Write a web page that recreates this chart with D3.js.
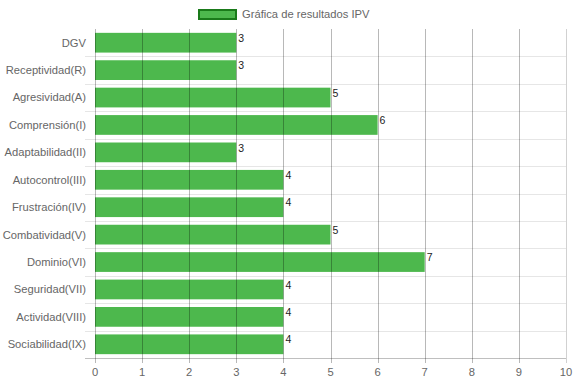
<!DOCTYPE html>
<html>
<head>
<meta charset="utf-8">
<script src="https://cdn.jsdelivr.net/npm/d3@7"></script>
<style>
  body { margin: 0; background: #fff; }
  text { font-family: "Liberation Sans", Arial, sans-serif; }
</style>
</head>
<body>
<div id="chart"></div>
<script>
// datos de la grafica IPV
var categories = ["DGV", "Receptividad(R)", "Agresividad(A)", "Comprensión(I)", "Adaptabilidad(II)",
  "Autocontrol(III)", "Frustración(IV)", "Combatividad(V)", "Dominio(VI)", "Seguridad(VII)",
  "Actividad(VIII)", "Sociabilidad(IX)"];
var values = [3, 3, 5, 6, 3, 4, 4, 5, 7, 4, 4, 4];
var xTicks = [0, 1, 2, 3, 4, 5, 6, 7, 8, 9, 10];
var legendLabel = "Gráfica de resultados IPV";

var width = 574, height = 383;
var margin = { top: 29, right: 8, bottom: 25, left: 95 };
var fontSize = "11.2px";

var svg = d3.select("#chart").append("svg")
  .attr("width", width)
  .attr("height", height);

var x = d3.scaleLinear()
  .domain([0, 10])
  .range([margin.left, width - margin.right]);

var y = d3.scaleBand()
  .domain(categories)
  .range([margin.top, height - margin.bottom]);

var barH = y.bandwidth() * 0.72;

// horizontal grid (category boundaries)
svg.append("g").selectAll("line")
  .data(categories.slice(1))
  .enter().append("line")
  .attr("x1", margin.left - 10)
  .attr("x2", x(10))
  .attr("y1", function (d) { return Math.round(y(d)) + 0.5; })
  .attr("y2", function (d) { return Math.round(y(d)) + 0.5; })
  .style("stroke", "#e6e6e6");

// bars
svg.append("g").selectAll("rect")
  .data(values)
  .enter().append("rect")
  .attr("x", x(0))
  .attr("y", function (d, i) { return y(categories[i]) + (y.bandwidth() - barH) / 2; })
  .attr("width", function (d) { return x(d) - x(0); })
  .attr("height", barH)
  .style("fill", "#4db84d");

// vertical grid on top so it shows through the bars
svg.append("g").selectAll("line")
  .data(xTicks)
  .enter().append("line")
  .attr("x1", function (d) { return Math.round(x(d)) + 0.5; })
  .attr("x2", function (d) { return Math.round(x(d)) + 0.5; })
  .attr("y1", margin.top)
  .attr("y2", height - margin.bottom + 5)
  .style("stroke", function (d) { return d === 10 ? "rgba(0,0,0,0.18)" : "rgba(0,0,0,0.28)"; });

// bottom axis line
svg.append("line")
  .attr("x1", margin.left - 10)
  .attr("x2", x(10))
  .attr("y1", height - margin.bottom + 0.5)
  .attr("y2", height - margin.bottom + 0.5)
  .style("stroke", "rgba(0,0,0,0.25)");

// x tick labels
svg.append("g").selectAll("text")
  .data(xTicks)
  .enter().append("text")
  .attr("x", function (d) { return x(d); })
  .attr("y", height - margin.bottom + 18)
  .attr("text-anchor", "middle")
  .style("font-size", fontSize)
  .style("fill", "#666")
  .text(function (d) { return d; });

// category labels
svg.append("g").selectAll("text")
  .data(categories)
  .enter().append("text")
  .attr("x", margin.left - 9)
  .attr("y", function (d) { return y(d) + y.bandwidth() / 2; })
  .attr("dy", "0.35em")
  .attr("text-anchor", "end")
  .style("font-size", fontSize)
  .style("fill", "#666")
  .text(function (d) { return d; });

// value labels
svg.append("g").selectAll("text")
  .data(values)
  .enter().append("text")
  .attr("x", function (d) { return x(d) + 2; })
  .attr("y", function (d, i) { return y(categories[i]) + (y.bandwidth() - barH) / 2 + 9; })
  .style("font-size", "10.5px")
  .style("fill", "#222")
  .text(function (d) { return d; });

// legend
var legend = svg.append("g");
legend.append("rect")
  .attr("x", 199)
  .attr("y", 10)
  .attr("width", 37)
  .attr("height", 9)
  .style("fill", "#4db84d")
  .style("stroke", "#1a7a1a")
  .style("stroke-width", 2);
legend.append("text")
  .attr("x", 242)
  .attr("y", 14)
  .attr("dy", "0.35em")
  .style("font-size", fontSize)
  .style("fill", "#666")
  .text(legendLabel);
</script>
</body>
</html>
